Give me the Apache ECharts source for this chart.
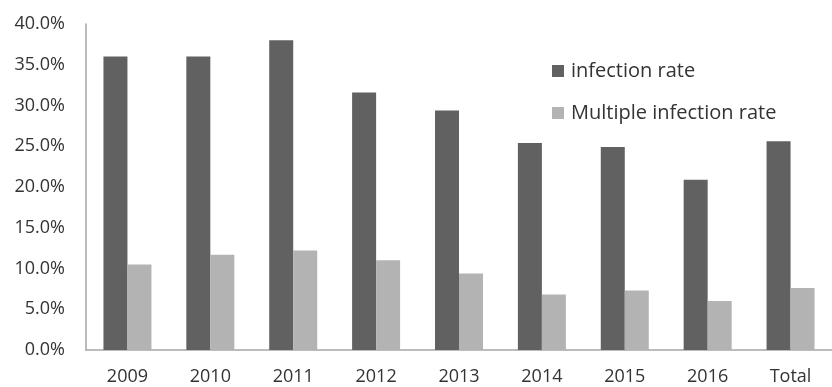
<!DOCTYPE html>
<html>
<head>
<meta charset="utf-8">
<script src="https://cdn.jsdelivr.net/npm/echarts@6/dist/echarts.min.js"></script>
<style>
  html, body { margin: 0; padding: 0; background: #fff; }
  #main { width: 832px; height: 387px; }
</style>
</head>
<body>
<div id="main"></div>
<script>
// data (percent)
var categories = ["2009", "2010", "2011", "2012", "2013", "2014", "2015", "2016", "Total"];
var infectionRate = [36.0, 36.0, 38.0, 31.6, 29.4, 25.4, 24.9, 20.9, 25.6];
var multipleRate = [10.5, 11.7, 12.2, 11.0, 9.4, 6.8, 7.3, 6.0, 7.6];
var seriesNames = ["infection rate", "Multiple infection rate"];

var myChart = echarts.init(document.getElementById("main"));
var textColor = "#333";
var font = "Open Sans";

var option = {
    backgroundColor: "#fff",
    animation: false,
    grid: {
        left: 86,
        right: -11,
        top: 24,
        bottom: 37
    },
    legend: {
        orient: "vertical",
        left: 552,
        top: 61,
        padding: 0,
        itemWidth: 12,
        itemHeight: 12,
        itemGap: 22,
        icon: "rect",
        textStyle: { fontSize: 20, color: textColor, fontFamily: font, padding: [0, 0, 0, 2] },
        data: seriesNames
    },
    xAxis: {
        type: "category",
        data: categories,
        axisLine: { lineStyle: { color: "#a6a6a6", width: 1.5 } },
        axisTick: { show: false },
        axisLabel: { fontSize: 18, color: textColor, fontFamily: font, margin: 18 }
    },
    yAxis: {
        type: "value",
        min: 0,
        max: 40,
        interval: 5,
        splitLine: { show: false },
        axisLine: { show: true, lineStyle: { color: "#a6a6a6", width: 1.5 } },
        axisTick: { show: false },
        axisLabel: {
            fontSize: 18,
            color: textColor,
            fontFamily: font,
            margin: 21,
            formatter: function (v) { return v.toFixed(1) + "%"; }
        }
    },
    series: [
        {
            name: seriesNames[0],
            type: "bar",
            data: infectionRate,
            barWidth: 24,
            barGap: "0%",
            itemStyle: { color: "#616161" }
        },
        {
            name: seriesNames[1],
            type: "bar",
            data: multipleRate,
            barWidth: 24,
            barGap: "0%",
            itemStyle: { color: "#b3b3b3" }
        }
    ]
};

myChart.setOption(option);
</script>
</body>
</html>
